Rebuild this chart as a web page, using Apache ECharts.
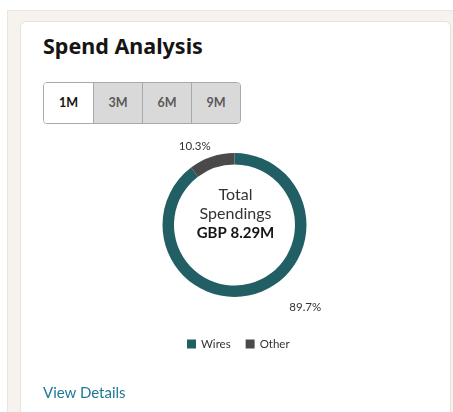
<!DOCTYPE html>
<html>
<head>
<meta charset="utf-8">
<script src="https://cdn.jsdelivr.net/npm/echarts@6/dist/echarts.min.js"></script>
<style>
  html, body { margin: 0; padding: 0; width: 453px; height: 412px; overflow: hidden; background: #ffffff; font-family: Lato, "Noto Sans", sans-serif; }
  #frame { position: absolute; left: 7px; top: 10px; width: 460px; height: 420px; background: #f6f3ef; border: 1px solid #ece6df; }
  #card { position: absolute; left: 20px; top: 21px; width: 429px; height: 420px; background: #ffffff; border: 1px solid #e6e2dd; border-radius: 6px; }
  #title { position: absolute; left: 43px; top: 31px; font-family: "Noto Sans"; font-size: 21.5px; font-weight: 700; color: #161513; }
  #btns { position: absolute; left: 43px; top: 82px; height: 40px; display: flex; border: 1px solid #a9a9a9; border-radius: 4px; overflow: hidden; }
  .b { width: 49px; height: 40px; line-height: 40px; text-align: center; font-size: 12.5px; font-weight: 700; color: #5a5a5a; background: #d9d9d9; border-left: 1px solid #a9a9a9; box-sizing: border-box; }
  .b.sel { background: #ffffff; color: #161513; border-left: none; }
  #link { position: absolute; left: 43px; top: 383px; font-size: 15px; color: #1d7a96; }
  #chart { position: absolute; left: 0; top: 0; width: 453px; height: 412px; }
</style>
</head>
<body>
<div id="frame"></div>
<div id="card"></div>
<div id="title">Spend Analysis</div>
<div id="btns"></div>
<div id="chart"></div>
<div id="link">View Details</div>
<script>
const periods = ['1M', '3M', '6M', '9M'];
const categories = ['Wires', 'Other'];
const shares = [89.7, 10.3];
const colors = ['#225f64', '#4a4a4a'];
const centerLines = ['Total', 'Spendings', 'GBP 8.29M'];

const btns = document.getElementById('btns');
periods.forEach((p, i) => {
  const d = document.createElement('div');
  d.className = 'b' + (i === 0 ? ' sel' : '');
  d.textContent = p;
  btns.appendChild(d);
});

const labelOffsets = [[25, 8], [6, -5]];
const chart = echarts.init(document.getElementById('chart'), null, { renderer: 'canvas' });
const cx = 234.5, cy = 225;
chart.setOption({
  animation: false,
  color: colors,
  legend: {
    data: categories,
    left: 182,
    top: 333,
    itemWidth: 9,
    itemHeight: 9,
    itemGap: 15,
    icon: 'rect',
    textStyle: { fontFamily: 'Lato', fontSize: 11.5, color: '#333' }
  },
  graphic: [{
    type: 'text',
    style: {
      x: cx + 1, y: cy - 11,
      text: centerLines[0] + '\n' + centerLines[1] + '\n{b|' + centerLines[2] + '}',
      align: 'center', verticalAlign: 'middle',
      font: '16px Lato',
      lineHeight: 19,
      fill: '#333',
      rich: { b: { fontWeight: 700, fontSize: 15, fontFamily: 'Lato', fill: '#161513', lineHeight: 19 } }
    }
  }],
  series: [{
    type: 'pie',
    center: [cx, cy],
    radius: [60.5, 72],
    startAngle: 90,
    clockwise: true,
    avoidLabelOverlap: false,
    label: {
      show: true,
      position: 'outside',
      formatter: p => p.value.toFixed(1) + '%',
      fontFamily: 'Lato',
      fontSize: 11.5,
      color: '#333'
    },
    labelLine: { show: false, length: 6, length2: 0 },
    itemStyle: { borderColor: '#fff', borderWidth: 0 },
    data: categories.map((c, i) => ({ name: c, value: shares[i], label: { offset: labelOffsets[i] } }))
  }]
});
</script>
</body>
</html>
